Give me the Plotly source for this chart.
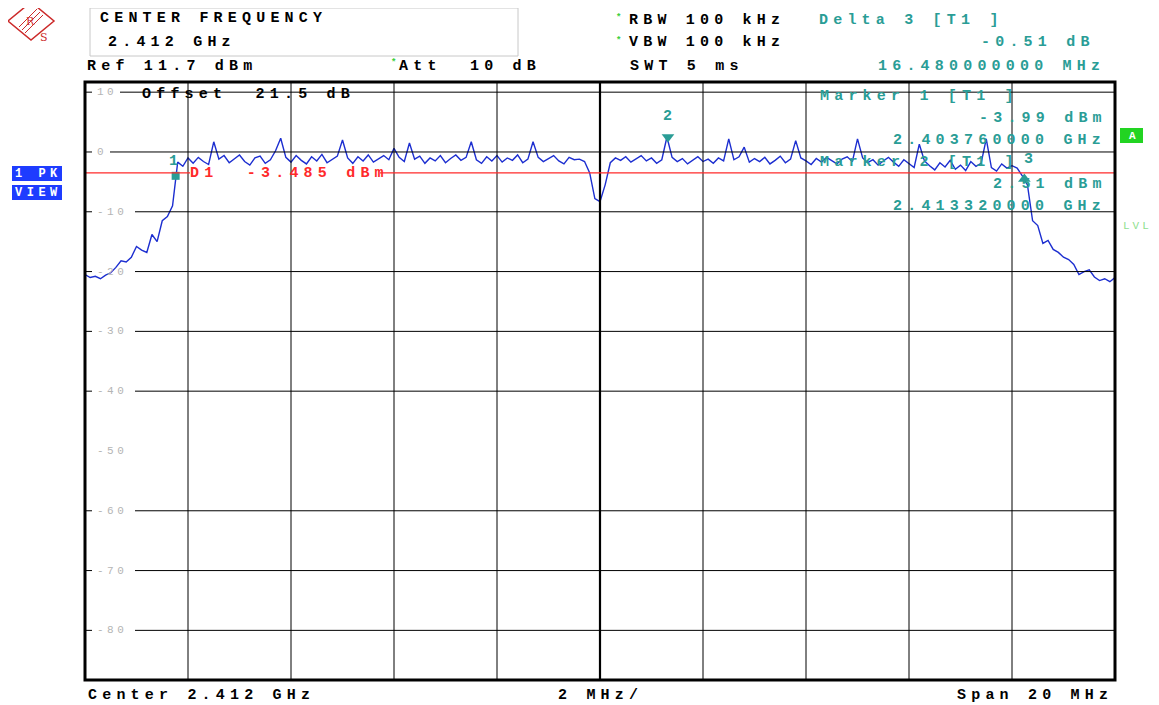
import numpy as np
import plotly.graph_objects as go

# ---------------- data ----------------
start_ghz = 2.402
stop_ghz = 2.422
ref_level = 11.7
bottom_level = -88.3

trace_dbm = [
    -20.5, -21.0, -20.8, -21.2, -20.6, -20.2, -19.3, -18.2, -18.4, -17.6,
    -15.8, -16.4, -16.8, -13.8, -15.0, -11.5, -10.8, -9.0, -1.7, -2.4,
    -1.0, -1.9, -0.9, -1.6, -2.1, 1.7, -1.2, -0.6, -1.8, -1.1,
    -0.5, -1.6, -2.2, -1.0, -0.7, -1.9, -1.3, 0.2, 2.3, -0.9,
    -1.7, -0.6, -1.4, -2.0, -0.8, -1.5, -0.4, -1.8, -1.2, -0.7,
    2.0, -1.0, -1.9, -0.8, -1.5, -0.5, -1.7, -1.1, -0.6, -1.3,
    0.6, -0.9, -1.6, 1.5, -1.2, -0.7, -1.9, -1.0, -1.5, -0.6,
    -1.8, -1.1, -0.5, -1.4, -0.9, 1.7, -1.3, -1.9, -0.8, -1.5,
    -0.6, -1.7, -1.0, -1.4, -0.5, -1.8, -1.2, 1.7, -0.9, -1.6,
    -1.1, -0.6, -1.5, -2.0, -0.9, -1.3, -1.2, -1.6, -3.5, -7.8,
    -8.3, -5.5, -1.8, -1.0, -1.4, -0.8, -1.7, -1.2, -0.6, -1.5,
    -1.0, -1.9, -1.3, 2.5, -0.9, -1.6, -1.1, -2.0, -1.4, -0.8,
    -1.6, -1.2, -1.9, -1.0, -1.5, 2.2, -1.3, -0.8, 0.8, -1.7,
    -1.1, -1.6, -0.9, -2.0, -1.4, -0.7, -1.8, -1.2, 1.9, -1.0,
    -1.5, -2.1, -1.1, -1.7, -0.9, -1.4, -2.0, -1.2, -0.8, -1.6,
    2.2, -1.0, -1.8, -1.3, -2.2, -1.5, -0.9, -1.7, -2.4, -1.3,
    -1.9, -2.6, 1.3, -1.5, -2.3, -3.0, -1.8, -2.5, -1.4, -2.9,
    -2.2, -3.1, -1.6, -2.4, -1.9, 2.2, -2.6, -3.2, -2.0, -2.7,
    -2.3, -2.7, -4.0, -5.5, -11.5, -12.3, -15.3, -14.8, -16.3, -16.8,
    -17.6, -18.0, -18.8, -20.5, -20.0, -19.7, -20.9, -21.5, -21.2, -21.7, -21.0,
]
freq_ghz = np.linspace(start_ghz, stop_ghz, len(trace_dbm))

grid_freqs = [2.404, 2.406, 2.408, 2.410, 2.412, 2.414, 2.416, 2.418, 2.420]
grid_levels = [10, 0, -10, -20, -30, -40, -60, -70, -80]
label_levels = [10, 0, -10, -20, -30, -40, -50, -60, -70, -80]

marker_names = ["1", "2"]
marker_freqs = [2.40376, 2.41332]
marker_levels = [-3.99, 2.51]
delta3_freq_mhz = 16.48
delta3_db = -0.51
marker3_freq = marker_freqs[0] + delta3_freq_mhz / 1000.0
marker3_level = marker_levels[0] + delta3_db
display_line = -3.485

# ---------------- geometry helpers ----------------
W, H = 1159, 705          # browser window
OFF = 8                   # default page body margin
L, R, T, B = 85, 1115, 82, 680   # plot frame in window pixels

def xp(px):
    return (px - L) / (R - L)

def yp(py):
    return (B - py) / (B - T)

def fx(px):
    return start_ghz + (px - L) / (R - L) * (stop_ghz - start_ghz)

TEAL = "#2a9d96"
RED = "#ff2a2a"
MONO = "Liberation Mono"
FS = 15
LS = 5.2

annotations = []
shapes = []

def txt(s, px, py, color="#000000", size=FS, ls=LS, bold=True, anchor="left", bg=None):
    annotations.append(dict(
        xref="paper", yref="paper", x=xp(px), y=yp(py),
        xanchor=anchor, yanchor="middle", showarrow=False,
        text=f'<span style="letter-spacing:{ls}px">{s}</span>',
        font=dict(family=MONO, size=size, color=color, weight="bold" if bold else "normal"),
        borderpad=0, bgcolor=bg,
    ))

# ---------------- figure ----------------
fig = go.Figure()
fig.add_trace(go.Scatter(
    x=freq_ghz, y=trace_dbm, mode="lines",
    line=dict(color="#1c2ed0", width=1.4), hoverinfo="skip",
))
# markers
fig.add_trace(go.Scatter(x=[marker_freqs[0]], y=[marker_levels[0]], mode="markers",
                         marker=dict(symbol="square", size=8, color=TEAL), hoverinfo="skip"))
fig.add_trace(go.Scatter(x=[marker_freqs[1]], y=[marker_levels[1]], mode="markers",
                         marker=dict(symbol="triangle-down", size=11, color=TEAL), hoverinfo="skip"))
fig.add_trace(go.Scatter(x=[marker3_freq], y=[marker3_level], mode="markers",
                         marker=dict(symbol="triangle-up", size=11, color=TEAL), hoverinfo="skip"))

for name, f, lv, ys, xs in [("1", marker_freqs[0], marker_levels[0], 14, -2),
                            ("2", marker_freqs[1], marker_levels[1], 20, 0),
                            ("3", marker3_freq, marker3_level, 19, 4)]:
    annotations.append(dict(xref="x", yref="y", x=f, y=lv, yshift=ys, xshift=xs,
                            showarrow=False, text=name,
                            font=dict(family=MONO, size=FS, color=TEAL, weight="bold")))

# vertical grid lines
for g in grid_freqs:
    shapes.append(dict(type="line", xref="x", yref="paper", x0=g, x1=g, y0=0, y1=1,
                       line=dict(color="#000000", width=2.2 if abs(g - 2.412) < 1e-9 else 1)))

# horizontal grid lines with gap for the level label
for lv in grid_levels:
    gap_end = 120 if lv == 10 else (110 if lv == 0 else 135)
    shapes.append(dict(type="line", xref="x", yref="y", x0=fx(gap_end), x1=stop_ghz, y0=lv, y1=lv,
                       line=dict(color="#000000", width=1)))
    shapes.append(dict(type="line", xref="x", yref="y", x0=start_ghz, x1=fx(92), y0=lv, y1=lv,
                       line=dict(color="#000000", width=1)))
for lv in label_levels:
    annotations.append(dict(xref="paper", yref="y", x=xp(95), y=lv, xanchor="left", yanchor="middle",
                            showarrow=False,
                            text=f'<span style="letter-spacing:3.5px">{lv}</span>',
                            font=dict(family=MONO, size=11, color="#b4b4b4")))

# display line D1 (split around its label)
shapes.append(dict(type="line", xref="x", yref="y", x0=start_ghz, x1=fx(190), y0=display_line, y1=display_line,
                   line=dict(color=RED, width=1.3)))
shapes.append(dict(type="line", xref="x", yref="y", x0=fx(380), x1=stop_ghz, y0=display_line, y1=display_line,
                   line=dict(color=RED, width=1.3)))
txt("D1\u00a0\u00a0-3.485 dBm", 189, 173, color=RED)

# plot frame
shapes.append(dict(type="rect", xref="paper", yref="paper", x0=0, x1=1, y0=0, y1=1,
                   line=dict(color="#000000", width=3)))

# header box
shapes.append(dict(type="rect", xref="paper", yref="paper", x0=xp(90), x1=xp(518), y0=yp(56), y1=yp(8),
                   line=dict(color="#c8c8c8", width=1)))

# R&S logo
lc = "#cc2a2a"
shapes.append(dict(type="path", xref="paper", yref="paper",
                   path=f"M {xp(8)} {yp(21)} L {xp(31)} {yp(2)} L {xp(54)} {yp(21)} L {xp(31)} {yp(40)} Z",
                   line=dict(color=lc, width=1.5)))
for d in [-3, 0, 3]:
    shapes.append(dict(type="line", xref="paper", yref="paper",
                       x0=xp(22 + d), y0=yp(30 + d), x1=xp(40 + d), y1=yp(12 + d),
                       line=dict(color=lc, width=1)))
annotations.append(dict(xref="paper", yref="paper", x=xp(24), y=yp(13), showarrow=False, text="R",
                        font=dict(family="DejaVu Serif", size=11, color=lc)))
annotations.append(dict(xref="paper", yref="paper", x=xp(38), y=yp(29), showarrow=False, text="S",
                        font=dict(family="DejaVu Serif", size=11, color=lc)))

# header texts
txt("CENTER FREQUENCY", 99, 18)
txt("2.412 GHz", 107, 43)
txt("Ref 11.7 dBm", 86, 66)
txt("*", 390, 63, color="#3ccf3c", size=9, ls=0)
txt("Att\u00a0\u00a010 dB", 398, 66)
txt("*", 615, 18, color="#3ccf3c", size=9, ls=0)
txt("RBW 100 kHz", 628, 20)
txt("*", 615, 41, color="#3ccf3c", size=9, ls=0)
txt("VBW 100 kHz", 628, 43)
txt("SWT 5 ms", 629, 66)
txt("Delta 3 [T1 ]", 818, 20, color=TEAL)
txt(f"{delta3_db:.2f} dB", 980, 43, color=TEAL)
txt(f"{delta3_freq_mhz:.9f} MHz", 877, 66, color=TEAL)

# marker info inside the grid
txt("Marker 1 [T1 ]", 819, 97, color=TEAL)
txt(f"{marker_levels[0]:.2f} dBm", 978, 119, color=TEAL)
txt(f"{marker_freqs[0]:.9f} GHz", 892, 140, color=TEAL)
txt("Marker 2 [T1 ]", 819, 162, color=TEAL)
txt(f"{marker_levels[1]:.2f} dBm", 992, 184, color=TEAL)
txt(f"{marker_freqs[1]:.9f} GHz", 892, 206, color=TEAL)
txt("Offset\u00a0\u00a021.5 dB", 141, 95)

# side labels
shapes.append(dict(type="rect", xref="paper", yref="paper", x0=xp(12), x1=xp(62), y0=yp(181), y1=yp(166),
                   fillcolor="#1e3cff", line=dict(width=0)))
shapes.append(dict(type="rect", xref="paper", yref="paper", x0=xp(12), x1=xp(62), y0=yp(200), y1=yp(185),
                   fillcolor="#1e3cff", line=dict(width=0)))
txt("1 PK", 38, 174, color="#ffffff", size=12, ls=4.5, anchor="center")
txt("VIEW", 38, 193, color="#ffffff", size=12, ls=4.5, anchor="center")
shapes.append(dict(type="rect", xref="paper", yref="paper", x0=xp(1120), x1=xp(1143), y0=yp(143), y1=yp(128),
                   fillcolor="#22d422", line=dict(width=0)))
txt("A", 1132, 136, color="#ffffff", size=11, ls=0, anchor="center")
txt("LVL", 1122, 226, color="#8fe08f", size=11, ls=3, bold=False)

# bottom texts
txt("Center 2.412 GHz", 87, 695)
txt("2 MHz/", 557, 695)
txt("Span 20 MHz", 956, 695)

fig.update_layout(
    width=W - OFF, height=H - OFF, autosize=False,
    margin=dict(l=L - OFF, r=W - R, t=T - OFF, b=H - B, pad=0),
    paper_bgcolor="#ffffff", plot_bgcolor="#ffffff",
    showlegend=False, hovermode=False,
    xaxis=dict(range=[start_ghz, stop_ghz], showgrid=False, zeroline=False,
               showticklabels=False, ticks="", showline=False, fixedrange=True),
    yaxis=dict(range=[bottom_level, ref_level], showgrid=False, zeroline=False,
               showticklabels=False, ticks="", showline=False, fixedrange=True),
    shapes=shapes, annotations=annotations,
)

fig.write_html("out.html")
